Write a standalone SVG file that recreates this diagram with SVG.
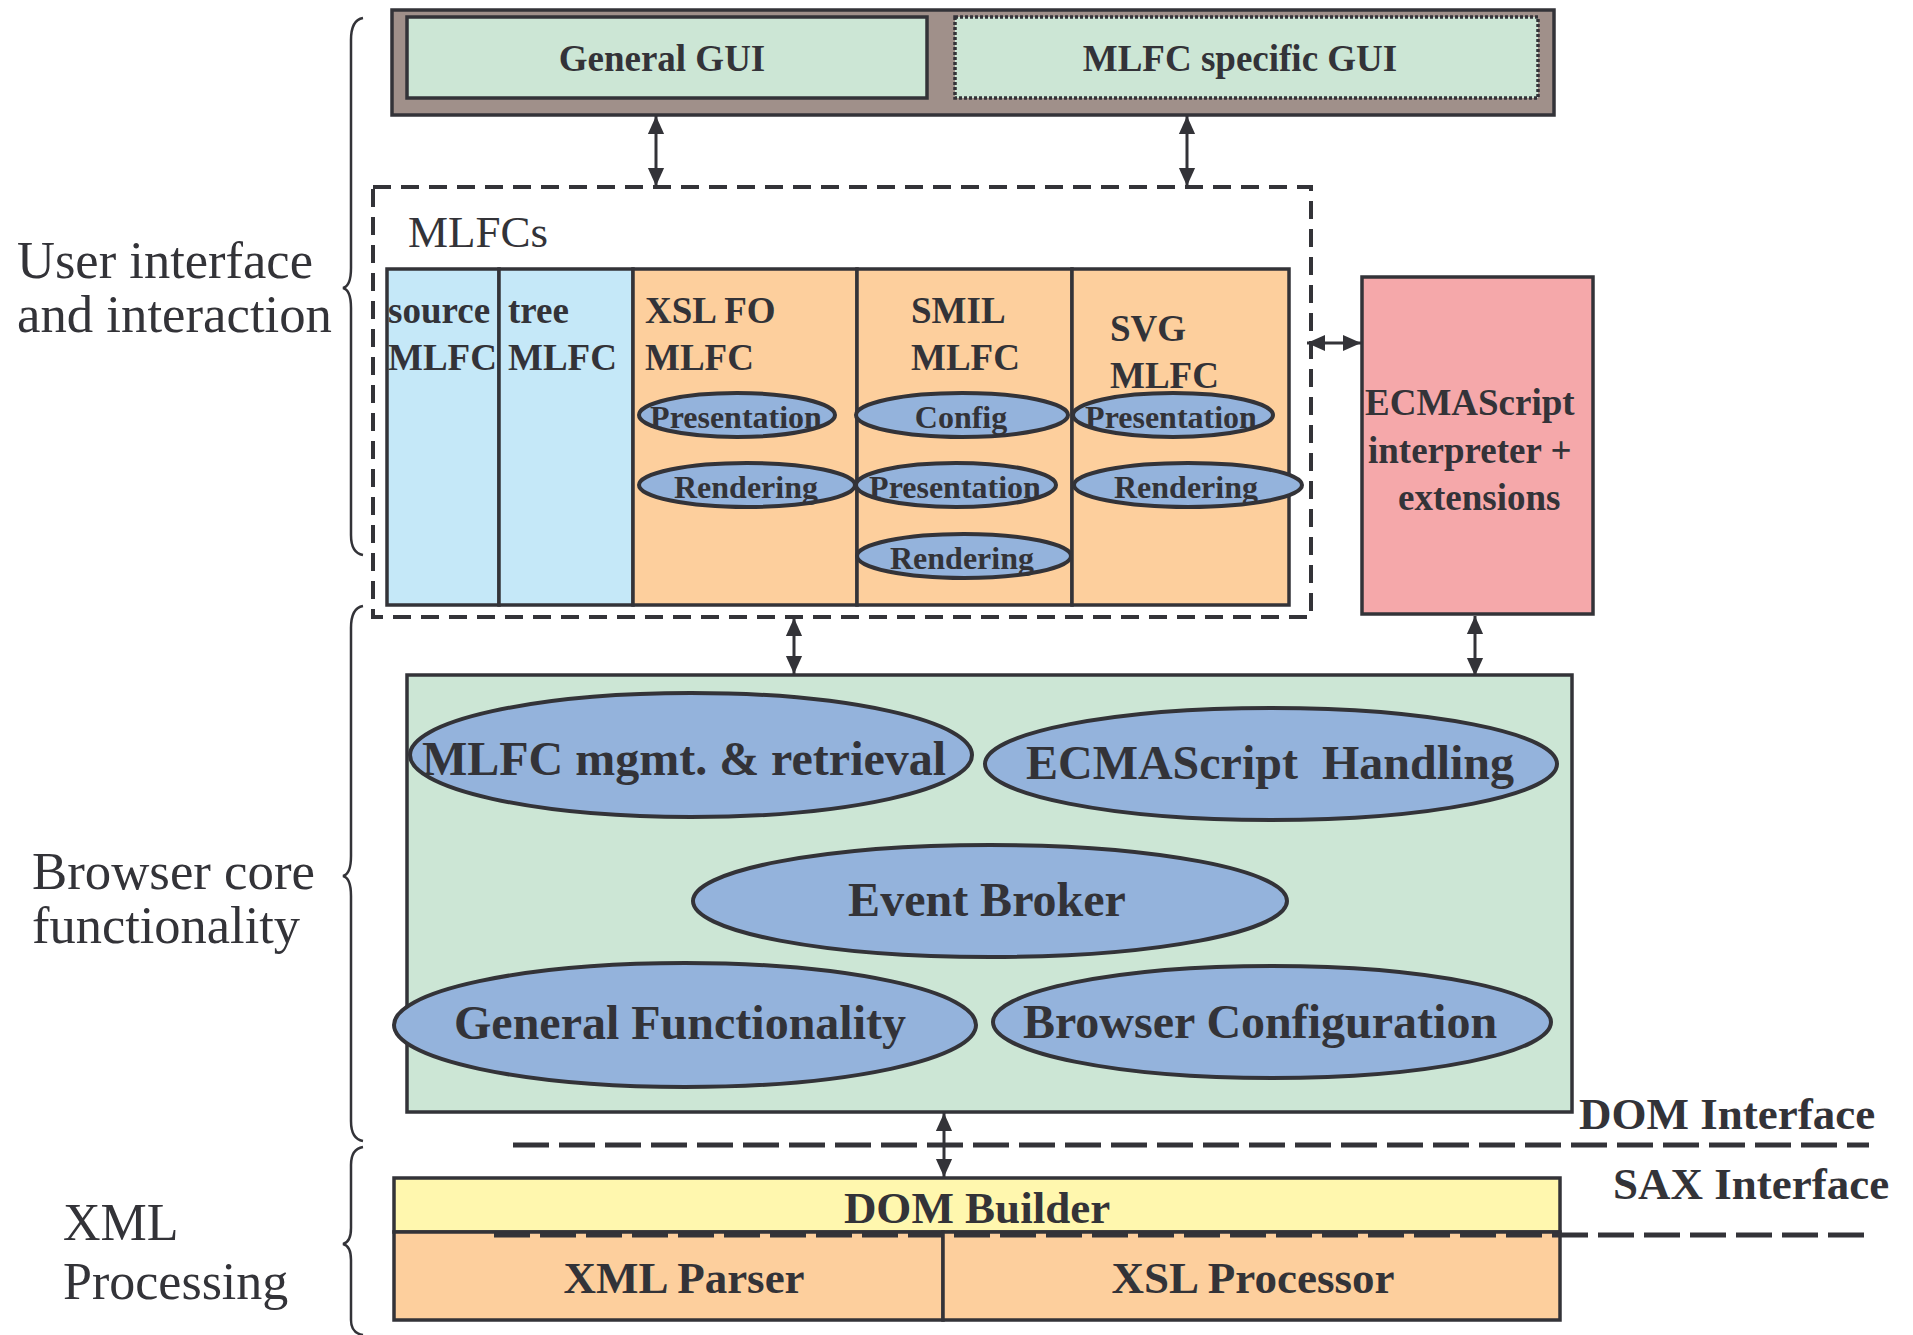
<svg xmlns="http://www.w3.org/2000/svg" width="1913" height="1335" viewBox="0 0 1913 1335">
<style>
text{font-family:"Liberation Serif","Times New Roman",serif;fill:#333338}
.b{font-weight:bold}
.box{stroke:#333338;stroke-width:3.5}
.ell{fill:#94B3DC;stroke:#333338;stroke-width:4}
.lbl{font-size:52px}
.col{font-size:37px;font-weight:bold}
.sm{font-size:32px;font-weight:bold;text-anchor:middle}
.big{font-size:48px;font-weight:bold;text-anchor:middle}
.conn{stroke:#333338;stroke-width:3;fill:none;marker-start:url(#ah);marker-end:url(#ah)}
.brace{stroke:#333338;stroke-width:2.5;fill:none}
</style>
<defs>
<marker id="ah" viewBox="0 0 20 20" refX="20" refY="10" markerWidth="20" markerHeight="18" markerUnits="userSpaceOnUse" orient="auto-start-reverse">
<path d="M0,1 L20,10 L0,19 z" fill="#333338"/>
</marker>
</defs>
<rect width="1913" height="1335" fill="#ffffff"/>

<g id="labels">
<text class="lbl" x="17" y="278" textLength="296" lengthAdjust="spacingAndGlyphs">User interface</text>
<text class="lbl" x="17" y="332" textLength="315" lengthAdjust="spacingAndGlyphs">and interaction</text>
<text class="lbl" x="32" y="889" textLength="283" lengthAdjust="spacingAndGlyphs">Browser core</text>
<text class="lbl" x="32" y="943" textLength="268" lengthAdjust="spacingAndGlyphs">functionality</text>
<text class="lbl" x="63" y="1240">XML</text>
<text class="lbl" x="63" y="1299">Processing</text>
<path class="brace" d="M363,18 Q351,20 351,40 L351,268 Q351,286 343,288 Q351,290 351,308 L351,535 Q351,553 363,555"/>
<path class="brace" d="M363,606 Q351,608 351,628 L351,856 Q351,874 343,876 Q351,878 351,896 L351,1121 Q351,1139 363,1141"/>
<path class="brace" d="M363,1147 Q351,1149 351,1165 L351,1228 Q351,1242 343,1244 Q351,1246 351,1260 L351,1320 Q351,1333 363,1335"/>
</g>

<g id="gui">
<rect class="box" x="392" y="10" width="1162" height="105" fill="#A0908A"/>
<g id="general-gui">
<rect class="box" x="407" y="17" width="520" height="81" fill="#CCE6D5"/>
<text class="b" x="662" y="71" font-size="37" text-anchor="middle">General GUI</text>
</g>
<g id="mlfc-specific-gui">
<rect x="955" y="17" width="583" height="81" fill="#CCE6D5" stroke="#333338" stroke-width="3.5" stroke-dasharray="3 2"/>
<text class="b" x="1240" y="71" font-size="37" text-anchor="middle">MLFC specific GUI</text>
</g>
</g>

<g id="mlfcs">
<rect x="373" y="187" width="938" height="430" fill="none" stroke="#333338" stroke-width="4" stroke-dasharray="18 10"/>
<text x="408" y="247" font-size="45">MLFCs</text>
<g id="source-mlfc">
<rect class="box" x="387" y="269" width="112" height="336" fill="#C5E8F8"/>
<text class="col" x="388" y="323">source</text>
<text class="col" x="388" y="370">MLFC</text>
</g>
<g id="tree-mlfc">
<rect class="box" x="499" y="269" width="134" height="336" fill="#C5E8F8"/>
<text class="col" x="508" y="323">tree</text>
<text class="col" x="508" y="370">MLFC</text>
</g>
<g id="xslfo-mlfc">
<rect class="box" x="633" y="269" width="224" height="336" fill="#FDCF9D"/>
<text class="col" x="645" y="323">XSL FO</text>
<text class="col" x="645" y="370">MLFC</text>
<ellipse class="ell" cx="737" cy="415" rx="98" ry="22"/>
<text class="sm" x="736" y="428">Presentation</text>
<ellipse class="ell" cx="747" cy="485" rx="108" ry="22"/>
<text class="sm" x="746" y="498">Rendering</text>
</g>
<g id="smil-mlfc">
<rect class="box" x="857" y="269" width="215" height="336" fill="#FDCF9D"/>
<text class="col" x="911" y="323">SMIL</text>
<text class="col" x="911" y="370">MLFC</text>
<ellipse class="ell" cx="962" cy="415" rx="106" ry="22"/>
<text class="sm" x="961" y="428">Config</text>
<ellipse class="ell" cx="956" cy="485" rx="100" ry="22"/>
<text class="sm" x="955" y="498">Presentation</text>
<ellipse class="ell" cx="964" cy="556" rx="107" ry="22"/>
<text class="sm" x="962" y="569">Rendering</text>
</g>
<g id="svg-mlfc">
<rect class="box" x="1072" y="269" width="217" height="336" fill="#FDCF9D"/>
<text class="col" x="1110" y="341">SVG</text>
<text class="col" x="1110" y="388">MLFC</text>
<ellipse class="ell" cx="1173" cy="415" rx="100" ry="22"/>
<text class="sm" x="1171" y="428">Presentation</text>
<ellipse class="ell" cx="1188" cy="485" rx="114" ry="22"/>
<text class="sm" x="1186" y="498">Rendering</text>
</g>
</g>

<g id="ecmascript">
<rect class="box" x="1362" y="277" width="231" height="337" fill="#F5A8AA"/>
<text class="b" x="1365" y="415" font-size="37">ECMAScript</text>
<text class="b" x="1368" y="463" font-size="37">interpreter +</text>
<text class="b" x="1398" y="510" font-size="37">extensions</text>
</g>

<g id="core">
<rect class="box" x="407" y="675" width="1165" height="437" fill="#CCE6D5"/>
<g id="mlfc-mgmt">
<ellipse class="ell" cx="691" cy="755" rx="281" ry="62"/>
<text class="big" x="684" y="775">MLFC mgmt. &amp; retrieval</text>
</g>
<g id="ecmascript-handling">
<ellipse class="ell" cx="1271" cy="764" rx="286" ry="56"/>
<text class="big" x="1270" y="779" xml:space="preserve">ECMAScript  Handling</text>
</g>
<g id="event-broker">
<ellipse class="ell" cx="990" cy="901" rx="297" ry="56"/>
<text class="big" x="987" y="916">Event Broker</text>
</g>
<g id="general-functionality">
<ellipse class="ell" cx="685" cy="1025" rx="291" ry="62"/>
<text class="big" x="680" y="1039">General Functionality</text>
</g>
<g id="browser-configuration">
<ellipse class="ell" cx="1272" cy="1022" rx="279" ry="56"/>
<text class="big" x="1260" y="1038">Browser Configuration</text>
</g>
</g>

<g id="xml">
<g id="dom-builder">
<rect class="box" x="394" y="1178" width="1166" height="54" fill="#FFF7AE"/>
<text class="b" x="977" y="1223" font-size="45" text-anchor="middle">DOM Builder</text>
</g>
<g id="xml-parser">
<rect class="box" x="394" y="1232" width="549" height="88" fill="#FDCF9D"/>
<text class="b" x="684" y="1293" font-size="45" text-anchor="middle">XML Parser</text>
</g>
<g id="xsl-processor">
<rect class="box" x="943" y="1232" width="617" height="88" fill="#FDCF9D"/>
<text class="b" x="1253" y="1293" font-size="45" text-anchor="middle">XSL Processor</text>
</g>
</g>

<g id="interfaces">
<line x1="513" y1="1145" x2="1869" y2="1145" stroke="#333338" stroke-width="5" stroke-dasharray="36 10"/>
<text class="b" x="1579" y="1129" font-size="45">DOM Interface</text>
<line x1="494" y1="1235" x2="1873" y2="1235" stroke="#333338" stroke-width="5" stroke-dasharray="36 10"/>
<text class="b" x="1613" y="1199" font-size="45">SAX Interface</text>
</g>

<g id="connectors">
<line class="conn" x1="656" y1="116" x2="656" y2="186"/>
<line class="conn" x1="1187" y1="116" x2="1187" y2="186"/>
<line class="conn" x1="1307" y1="343" x2="1361" y2="343"/>
<line class="conn" x1="794" y1="618" x2="794" y2="674"/>
<line class="conn" x1="1475" y1="616" x2="1475" y2="676"/>
<line class="conn" x1="944" y1="1113" x2="944" y2="1177"/>
</g>
</svg>
